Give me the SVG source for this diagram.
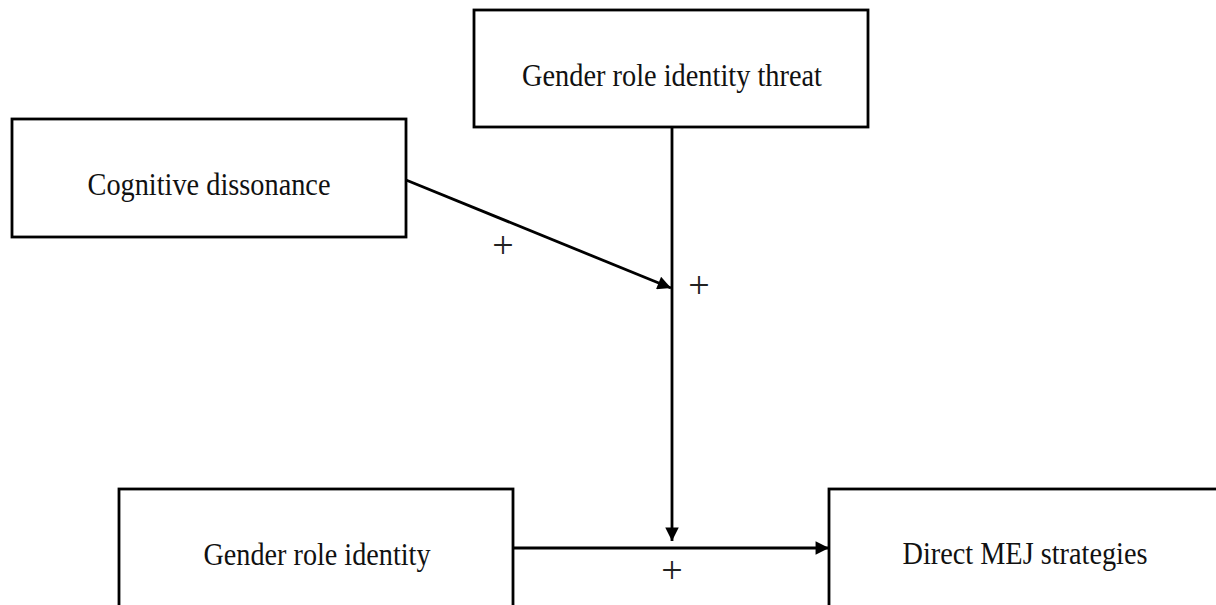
<svg xmlns="http://www.w3.org/2000/svg" width="1216" height="605" viewBox="0 0 1216 605">
<style>
.box{fill:#fff;stroke:#000;stroke-width:2.8}
.lbl{font-family:"Liberation Serif","Times New Roman","DejaVu Serif",serif;font-size:31px;fill:#111;text-anchor:middle}
.plus{font-family:"Liberation Serif","Times New Roman","DejaVu Serif",serif;font-size:38px;fill:#222;text-anchor:middle}
.conn{stroke:#000;stroke-width:2.8;fill:none}
</style>
<defs>
<marker id="ah" viewBox="0 0 10 10" refX="10" refY="5" markerWidth="5.6" markerHeight="4.8" markerUnits="strokeWidth" orient="auto">
<path d="M0,0 L10,5 L0,10 z" fill="#000"/>
</marker>
</defs>
<rect width="1216" height="605" fill="#fff"/>
<g id="node-threat">
<rect class="box" x="474" y="10" width="394" height="117"/>
<text class="lbl" x="672" y="86" textLength="300" lengthAdjust="spacingAndGlyphs">Gender role identity threat</text>
</g>
<g id="node-cognitive">
<rect class="box" x="12" y="119" width="394" height="118"/>
<text class="lbl" x="209" y="195" textLength="243" lengthAdjust="spacingAndGlyphs">Cognitive dissonance</text>
</g>
<g id="node-identity">
<rect class="box" x="119" y="489" width="394" height="130"/>
<text class="lbl" x="317" y="565" textLength="227" lengthAdjust="spacingAndGlyphs">Gender role identity</text>
</g>
<g id="node-direct">
<rect class="box" x="829" y="489" width="400" height="130"/>
<text class="lbl" x="1025" y="564" textLength="245" lengthAdjust="spacingAndGlyphs">Direct MEJ strategies</text>
</g>
<g id="connectors">
<line class="conn" x1="672" y1="127" x2="672" y2="541" marker-end="url(#ah)"/>
<line class="conn" x1="406" y1="180" x2="671" y2="288" marker-end="url(#ah)"/>
<line class="conn" x1="513" y1="548" x2="829" y2="548" marker-end="url(#ah)"/>
<text class="plus" x="503" y="258">+</text>
<text class="plus" x="699" y="298">+</text>
<text class="plus" x="672" y="583">+</text>
</g>
</svg>
